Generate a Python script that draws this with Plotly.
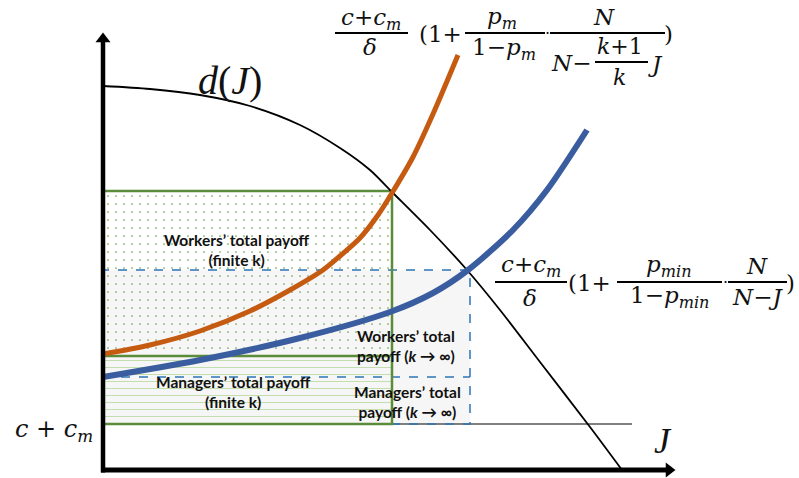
import plotly.graph_objects as go

# ---- model curves (J on the horizontal axis, payoff level on the vertical axis) ----
demand_J = [0, 47, 97, 147, 197, 237, 267, 289, 327, 364, 397, 437, 487, 519]
demand_v = [384, 381, 375, 364, 345, 322, 300, 278, 240, 200, 160, 108, 43, 0]

finite_J = [0, 47, 97, 147, 187, 220, 237, 257, 275, 289, 310, 330, 355]
finite_v = [116, 125, 139, 159, 180, 200, 214, 232, 255, 277, 313, 356, 415]

limit_J = [0, 97, 197, 287, 330, 365, 410, 444, 484]
limit_v = [93, 110, 132, 158, 177, 200, 240, 280, 340]

# ---- equilibrium boxes ----
cost_level = 46          # c + c_m
cost_line_end = 529
J_finite, top_finite, mgr_finite = 289, 279, 114
J_limit, top_limit, mgr_limit = 367, 200, 93

GREEN = "#5B8C3A"
ORANGE = "#C55A11"
BLUE = "#3A5DA0"
BLUE_DASH = "#2E75B6"

MATH = "DejaVu Serif"
TEX = "Liberation Serif"
BODY = "Lato"

fig = go.Figure()


def box(j0, j1, v0, v1):
    return [j0, j1, j1, j0, j0], [v0, v0, v1, v1, v0]


# faint shading of the k -> infinity box
bx, by = box(0, J_limit, cost_level, top_limit)
fig.add_trace(go.Scatter(x=bx, y=by, mode="lines", fill="toself",
                         fillcolor="rgba(0,0,0,0.035)", line=dict(width=0),
                         hoverinfo="skip"))

# workers' payoff (finite k): dotted
bx, by = box(0, J_finite, mgr_finite, top_finite)
fig.add_trace(go.Scatter(x=bx, y=by, mode="lines", fill="toself",
                         fillcolor="rgba(0,0,0,0)", line=dict(width=0),
                         fillpattern=dict(shape=".", fgcolor="#6E9E4E",
                                          bgcolor="rgba(0,0,0,0)", size=8,
                                          solidity=0.035, fillmode="replace"),
                         hoverinfo="skip"))

# managers' payoff (finite k): hatching
bx, by = box(0, J_finite, cost_level, mgr_finite)
fig.add_trace(go.Scatter(x=bx, y=by, mode="lines", fill="toself",
                         fillcolor="rgba(0,0,0,0)", line=dict(width=0),
                         fillpattern=dict(shape="-", fgcolor="#C2DEAE",
                                          bgcolor="rgba(0,0,0,0)", size=7,
                                          solidity=0.15, fillmode="replace"),
                         hoverinfo="skip"))

# cost line c + c_m
fig.add_trace(go.Scatter(x=[0, cost_line_end], y=[cost_level, cost_level],
                         mode="lines", line=dict(color="#555555", width=1.5),
                         hoverinfo="skip"))

# k -> infinity box outline (dashed blue)
bx, by = box(0, J_limit, cost_level, top_limit)
fig.add_trace(go.Scatter(x=bx, y=by, mode="lines",
                         line=dict(color=BLUE_DASH, width=1.5, dash="dash"),
                         hoverinfo="skip"))
fig.add_trace(go.Scatter(x=[0, J_limit], y=[mgr_limit, mgr_limit], mode="lines",
                         line=dict(color=BLUE_DASH, width=1.5, dash="dash"),
                         hoverinfo="skip"))

# finite k box outline (solid green)
bx, by = box(0, J_finite, cost_level, top_finite)
fig.add_trace(go.Scatter(x=bx, y=by, mode="lines",
                         line=dict(color=GREEN, width=2.5), hoverinfo="skip"))
fig.add_trace(go.Scatter(x=[0, J_finite], y=[mgr_finite, mgr_finite], mode="lines",
                         line=dict(color=GREEN, width=2.5), hoverinfo="skip"))

# curves
fig.add_trace(go.Scatter(x=demand_J, y=demand_v, mode="lines",
                         line=dict(color="black", width=1.8, shape="spline",
                                   smoothing=0.8), hoverinfo="skip"))
fig.add_trace(go.Scatter(x=finite_J, y=finite_v, mode="lines",
                         line=dict(color=ORANGE, width=5, shape="spline",
                                   smoothing=0.8), hoverinfo="skip"))
fig.add_trace(go.Scatter(x=limit_J, y=limit_v, mode="lines",
                         line=dict(color=BLUE, width=6, shape="spline",
                                   smoothing=0.8), hoverinfo="skip"))

# axes with arrow heads
fig.add_trace(go.Scatter(x=[0, 0], y=[-2.5, 429], mode="lines",
                         line=dict(color="black", width=4.5), hoverinfo="skip"))
fig.add_trace(go.Scatter(x=[0], y=[431], mode="markers",
                         marker=dict(symbol="triangle-up", size=13, color="black"),
                         hoverinfo="skip"))
fig.add_trace(go.Scatter(x=[-2, 563], y=[0, 0], mode="lines",
                         line=dict(color="black", width=5), hoverinfo="skip"))
fig.add_trace(go.Scatter(x=[566], y=[0], mode="markers",
                         marker=dict(symbol="triangle-right", size=13, color="black"),
                         hoverinfo="skip"))

ann = []


def note(text, x, y, size, family=MATH, bold=False, color="#111111"):
    ann.append(dict(text=text, x=x, y=y, xref="x", yref="y", showarrow=False,
                    xanchor="center", yanchor="middle",
                    font=dict(family=family, size=size, color=color,
                              weight="bold" if bold else "normal")))


def bar(x0, x1, y, w=2.2):
    fig.add_shape(type="line", x0=x0, x1=x1, y0=y, y1=y, xref="x", yref="y",
                  line=dict(color="black", width=w))


# region labels
note("Workers’ total payoff<br>(finite k)", 134, 220, 15.5, BODY, True)
note("Workers’ total<br>payoff (<i>k</i> → ∞)", 303, 124, 15.5, BODY, True)
note("Managers’ total payoff<br>(finite k)", 130, 78, 15.5, BODY, True)
note("Managers’ total<br>payoff (<i>k</i> → ∞)", 304, 68, 15.5, BODY, True)

# axis labels
note("<i>c</i> + <i>c</i><sub><i>m</i></sub>", -49, 40, 24)
note("<i>J</i>", 560, 29, 36, TEX)
note("<i>d</i>(<i>J</i>)", 127, 390, 40, TEX)

# finite-k curve formula
note("<i>c</i>+<i>c</i><sub><i>m</i></sub>", 268, 451, 23)
bar(232, 305, 437)
note("<i>δ</i>", 267, 423, 23)
note("(1+", 337, 436, 23)
note("<i>p</i><sub><i>m</i></sub>", 399, 452, 23)
bar(362, 442, 437)
note("1−<i>p</i><sub><i>m</i></sub>", 401, 421, 23)
note("·", 444, 437, 16)
note("<i>N</i>", 501, 453, 23)
bar(447, 562, 437)
note("<i>N</i>−", 468, 407, 23)
note("<i>k</i>+1", 517, 424, 22)
bar(492, 545, 408)
note("<i>k</i>", 516, 393, 22)
note("<i>J</i>", 552, 406, 23)
note(")", 565, 436, 23)

# k -> infinity curve formula
note("<i>c</i>+<i>c</i><sub><i>m</i></sub>", 428, 204, 23)
bar(392, 464, 188)
note("<i>δ</i>", 427, 172, 23)
note("(1+", 486, 187, 23)
note("<i>p</i><sub><i>min</i></sub>", 566, 204, 23)
bar(514, 619, 188)
note("1−<i>p</i><sub><i>min</i></sub>", 566, 173, 23)
note("·", 622, 188, 16)
note("<i>N</i>", 654, 204, 23)
bar(625, 684, 188)
note("<i>N</i>−<i>J</i>", 654, 173, 23)
note(")", 687, 187, 23)

fig.update_layout(
    width=799, height=478,
    margin=dict(l=0, r=0, t=0, b=0),
    plot_bgcolor="white", paper_bgcolor="white",
    showlegend=False,
    xaxis=dict(range=[-103, 696], visible=False, showgrid=False, zeroline=False),
    yaxis=dict(range=[-8, 470], visible=False, showgrid=False, zeroline=False),
    annotations=ann,
)

fig.write_html("out.html")
